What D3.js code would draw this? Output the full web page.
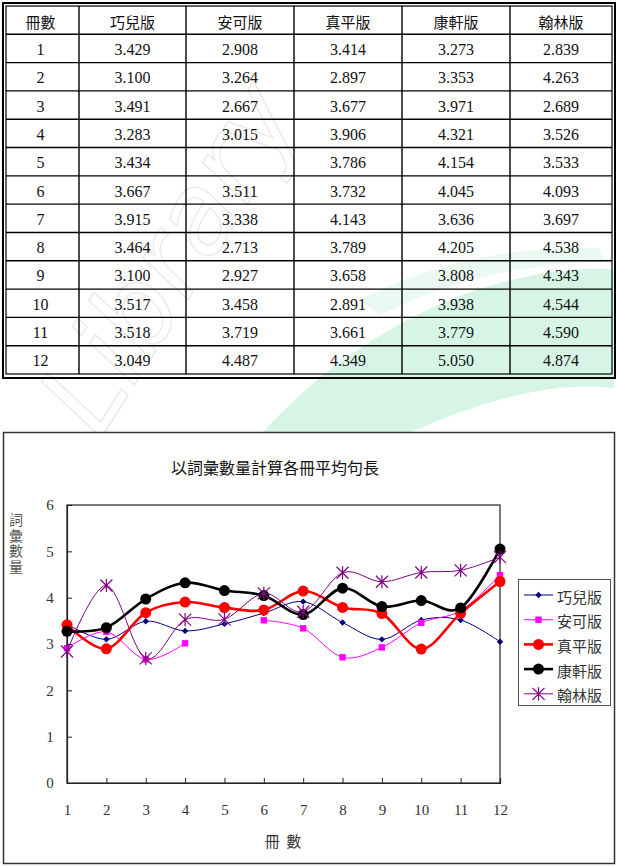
<!DOCTYPE html>
<html>
<head>
<meta charset="utf-8">
<script src="https://cdn.jsdelivr.net/npm/d3@7"></script>
<style>
  body { margin: 0; background: #fff; }
  svg { display: block; }
</style>
</head>
<body>
<div id="viz-container"></div>
<script>

// data
let volumes = [1, 2, 3, 4, 5, 6, 7, 8, 9, 10, 11, 12];
let editions = ["巧兒版", "安可版", "真平版", "康軒版", "翰林版"];
let qiaoer  = [3.429, 3.100, 3.491, 3.283, 3.434, 3.667, 3.915, 3.464, 3.100, 3.517, 3.518, 3.049];
let anke    = [2.908, 3.264, 2.667, 3.015, null,  3.511, 3.338, 2.713, 2.927, 3.458, 3.719, 4.487];
let zhenping= [3.414, 2.897, 3.677, 3.906, 3.786, 3.732, 4.143, 3.789, 3.658, 2.891, 3.661, 4.349];
let kangxuan= [3.273, 3.353, 3.971, 4.321, 4.154, 4.045, 3.636, 4.205, 3.808, 3.938, 3.779, 5.050];
let hanlin  = [2.839, 4.263, 2.689, 3.526, 3.533, 4.093, 3.697, 4.538, 4.343, 4.544, 4.590, 4.874];
let yTicks = [0, 1, 2, 3, 4, 5, 6];

let chartTitle = "以詞彙數量計算各冊平均句長";
let yTitle = "詞彙數量";
let xTitle = "冊  數";
let firstHeader = "冊數";

let allSeries = [qiaoer, anke, zhenping, kangxuan, hanlin];

let serif = "'Liberation Serif', 'Times New Roman', serif";
let cjk = "'Noto Sans CJK TC', 'Noto Sans CJK SC', sans-serif";

let viz = d3.select("#viz-container")
              .append("svg")
                .attr("width", 618)
                .attr("height", 866);

// faint watermark behind everything
let wm = viz.append("g");
wm.append("path")
    .attr("d", "M250,448 C300,385 380,325 470,292 C530,272 585,266 614,270 L614,388 C560,382 500,396 440,420 C405,434 385,444 375,452 Z")
    .attr("fill", "#d6f5e6");
wm.append("path")
    .attr("d", "M360,300 C430,262 520,245 600,248 L604,262 C530,262 450,280 380,315 Z")
    .attr("fill", "#eafaf2");
wm.append("text")
    .attr("transform", "translate(100,440) rotate(-58)")
    .attr("font-family", "'DejaVu Sans', sans-serif")
    .attr("font-size", 110)
    .attr("font-style", "italic")
    .attr("fill", "none")
    .attr("stroke", "#ebebeb")
    .attr("stroke-width", 1.5)
    .text("Library");

// ---------- table ----------
let tLeft = 3, tRight = 615, tTop = 3, tBottom = 378;
let colEdges = [6, 79, 186, 294, 402, 510, 612];
let rowH = (374 - 6) / 13;
let rowY = d3.range(14).map(i => 6 + i * rowH);

let table = viz.append("g");

let headers = [firstHeader].concat(editions);
let rows = volumes.map((v, i) => [String(v)].concat(allSeries.map(s => s[i] == null ? "" : s[i].toFixed(3))));

// grid lines
table.selectAll(".hline").data(rowY.slice(1, 13)).enter().append("line")
    .attr("x1", colEdges[0]).attr("x2", colEdges[6])
    .attr("y1", d => d).attr("y2", d => d)
    .attr("stroke", "#000").attr("stroke-width", 1.4);
table.selectAll(".vline").data(colEdges.slice(1, 6)).enter().append("line")
    .attr("x1", d => d).attr("x2", d => d)
    .attr("y1", rowY[0]).attr("y2", rowY[13])
    .attr("stroke", "#000").attr("stroke-width", 1.4);
table.append("rect")
    .attr("x", tLeft).attr("y", tTop)
    .attr("width", tRight - tLeft).attr("height", tBottom - tTop)
    .attr("fill", "none").attr("stroke", "#000").attr("stroke-width", 2);
table.append("rect")
    .attr("x", colEdges[0]).attr("y", rowY[0])
    .attr("width", colEdges[6] - colEdges[0]).attr("height", rowY[13] - rowY[0])
    .attr("fill", "none").attr("stroke", "#000").attr("stroke-width", 1.2);

table.selectAll(".head").data(headers).enter().append("text")
    .attr("x", (d, i) => (colEdges[i] + colEdges[i + 1]) / 2 + (i == 0 ? -2 : 0))
    .attr("y", rowY[0] + rowH / 2 + 1)
    .attr("text-anchor", "middle")
    .attr("dominant-baseline", "central")
    .attr("font-family", cjk)
    .attr("font-size", 15)
    .attr("fill", "#111")
    .text(d => d);

rows.forEach((r, ri) => {
  table.selectAll(".cell" + ri).data(r).enter().append("text")
      .attr("x", (d, i) => (colEdges[i] + colEdges[i + 1]) / 2 + (i == 0 ? -2 : 0))
      .attr("y", rowY[ri + 1] + rowH / 2 + 1)
      .attr("text-anchor", "middle")
      .attr("dominant-baseline", "central")
      .style("font-family", serif)
      .attr("font-size", 16)
      .attr("fill", "#111")
      .text(d => d);
});

// ---------- chart ----------
viz.append("rect")
    .attr("x", 3.5).attr("y", 432.5)
    .attr("width", 611).attr("height", 431)
    .attr("fill", "#fff").attr("stroke", "#333").attr("stroke-width", 1.5);

let x = d3.scaleLinear().domain([1, 12]).range([67, 500]);
let y = d3.scaleLinear().domain([0, 6]).range([783, 505]);

viz.append("text")
    .attr("x", 275).attr("y", 467)
    .attr("text-anchor", "middle").attr("dominant-baseline", "central")
    .attr("font-family", cjk).attr("font-size", 16).attr("fill", "#111")
    .text(chartTitle);

// plot frame
viz.append("rect")
    .attr("x", x(1)).attr("y", y(6))
    .attr("width", x(12) - x(1)).attr("height", y(0) - y(6))
    .attr("fill", "none").attr("stroke", "#222").attr("stroke-width", 1.2);

let yAxis = d3.axisLeft(y).tickValues(yTicks).tickSize(-5).tickPadding(17).tickFormat(d3.format("d"));
let yg = viz.append("g").attr("transform", `translate(${x(1)},0)`).call(yAxis);
let xAxis = d3.axisBottom(x).tickValues(volumes).tickSize(-5).tickPadding(21).tickFormat(d3.format("d"));
let xg = viz.append("g").attr("transform", `translate(0,${y(0)})`).call(xAxis);
[yg, xg].forEach(g => {
  g.select(".domain").attr("stroke", "#222").attr("stroke-width", 1.2);
  g.selectAll(".tick line").attr("stroke", "#222");
  g.selectAll("text").style("font-family", serif).attr("font-size", 15).attr("fill", "#333");
});
yg.selectAll("text").attr("text-anchor", "middle");

viz.append("text")
    .attr("x", 283).attr("y", 840)
    .attr("text-anchor", "middle").attr("dominant-baseline", "central")
    .attr("font-family", cjk).attr("font-size", 15).attr("fill", "#333")
    .attr("xml:space", "preserve")
    .text(xTitle);

// vertical axis title, one text in vertical writing mode
viz.append("text")
    .attr("x", 16).attr("y", 513)
    .style("writing-mode", "vertical-rl")
    .attr("text-anchor", "start")
    .attr("font-family", cjk).attr("font-size", 14).attr("fill", "#555")
    .attr("letter-spacing", 1.5)
    .text(yTitle);

// series styles
let styles = [
  { color: "#000080", width: 1,   marker: "diamond", size: 3.2 },
  { color: "#ff00ff", width: 1,   marker: "square",  size: 3.2 },
  { color: "#ff0000", width: 2.6, marker: "circle",  size: 5.5 },
  { color: "#000000", width: 2.6, marker: "circle",  size: 5.5 },
  { color: "#800080", width: 1,   marker: "star",    size: 6 }
];

function drawMarker(g, st, cx, cy) {
  if (st.marker == "circle") {
    g.append("circle").attr("cx", cx).attr("cy", cy).attr("r", st.size).attr("fill", st.color);
  } else if (st.marker == "square") {
    g.append("rect").attr("x", cx - st.size).attr("y", cy - st.size)
      .attr("width", st.size * 2).attr("height", st.size * 2).attr("fill", st.color);
  } else if (st.marker == "diamond") {
    let s = st.size;
    g.append("path").attr("d", `M${cx},${cy - s}L${cx + s},${cy}L${cx},${cy + s}L${cx - s},${cy}Z`).attr("fill", st.color);
  } else {
    let s = st.size;
    g.append("path")
      .attr("d", `M${cx - s},${cy - s}L${cx + s},${cy + s}M${cx - s},${cy + s}L${cx + s},${cy - s}M${cx},${cy - s * 1.1}L${cx},${cy + s * 1.1}`)
      .attr("stroke", st.color).attr("stroke-width", 1.2).attr("fill", "none");
  }
}

let line = d3.line()
    .defined(d => d.v != null)
    .x(d => x(d.vol))
    .y(d => y(d.v))
    .curve(d3.curveCatmullRom.alpha(0));

allSeries.forEach((s, si) => {
  let st = styles[si];
  let pts = s.map((v, i) => ({ vol: volumes[i], v: v }));
  let g = viz.append("g");
  g.append("path").datum(pts)
      .attr("d", line)
      .attr("fill", "none")
      .attr("stroke", st.color)
      .attr("stroke-width", st.width);
  pts.filter(p => p.v != null).forEach(p => drawMarker(g, st, x(p.vol), y(p.v)));
});

// legend
let lg = viz.append("g");
lg.append("rect")
    .attr("x", 518.5).attr("y", 579.5).attr("width", 92).attr("height", 126)
    .attr("fill", "#fff").attr("stroke", "#555").attr("stroke-width", 1);
editions.forEach((name, i) => {
  let st = styles[i];
  let ly = 595 + i * 24.7;
  lg.append("line").attr("x1", 524).attr("x2", 553).attr("y1", ly).attr("y2", ly)
      .attr("stroke", st.color).attr("stroke-width", st.width);
  drawMarker(lg, st, 538.5, ly);
  lg.append("text")
      .attr("x", 557).attr("y", ly + 1)
      .attr("dominant-baseline", "central")
      .attr("font-family", cjk).attr("font-size", 15).attr("fill", "#333")
      .text(name);
});

</script>
</body>
</html>
